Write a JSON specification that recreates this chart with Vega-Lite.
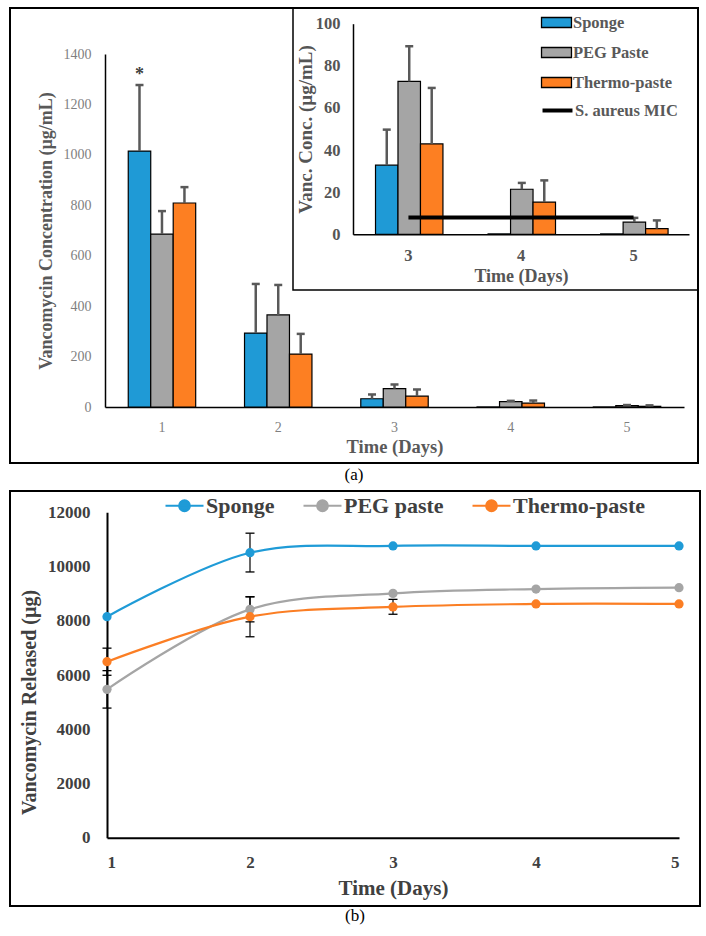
{
  "$schema": "https://vega.github.io/schema/vega-lite/v6.json",
  "background": "white",
  "padding": {"left": 9, "top": 6, "right": 0, "bottom": 0},
  "spacing": 6,
  "datasets": {
    "bars": [
      {"day": 1, "group": "Sponge", "mean": 1015, "upper": 1277, "note": "*"},
      {"day": 1, "group": "PEG Paste", "mean": 686, "upper": 777},
      {"day": 1, "group": "Thermo-paste", "mean": 809, "upper": 872},
      {"day": 2, "group": "Sponge", "mean": 293, "upper": 488},
      {"day": 2, "group": "PEG Paste", "mean": 365, "upper": 484},
      {"day": 2, "group": "Thermo-paste", "mean": 210, "upper": 290},
      {"day": 3, "group": "Sponge", "mean": 32.8, "upper": 49.7},
      {"day": 3, "group": "PEG Paste", "mean": 72.6, "upper": 89.3},
      {"day": 3, "group": "Thermo-paste", "mean": 42.9, "upper": 69.5},
      {"day": 4, "group": "Sponge", "mean": 0.2, "upper": null},
      {"day": 4, "group": "PEG Paste", "mean": 21.4, "upper": 24.4},
      {"day": 4, "group": "Thermo-paste", "mean": 15.3, "upper": 25.6},
      {"day": 5, "group": "Sponge", "mean": 0.2, "upper": null},
      {"day": 5, "group": "PEG Paste", "mean": 5.8, "upper": 7.8},
      {"day": 5, "group": "Thermo-paste", "mean": 2.7, "upper": 6.6}
    ],
    "mic": [
      {"day": 3, "group": "S. aureus MIC", "mic": 8},
      {"day": 5, "group": "S. aureus MIC", "mic": 8}
    ],
    "release": [
      {"day": 1, "group": "Sponge", "mass": 8150},
      {"day": 2, "group": "Sponge", "mass": 10510, "lo": 9800, "hi": 11230},
      {"day": 3, "group": "Sponge", "mass": 10760},
      {"day": 4, "group": "Sponge", "mass": 10760},
      {"day": 5, "group": "Sponge", "mass": 10760},
      {"day": 1, "group": "PEG paste", "mass": 5470, "lo": 4780, "hi": 6160},
      {"day": 2, "group": "PEG paste", "mass": 8420, "lo": 7960, "hi": 8880},
      {"day": 3, "group": "PEG paste", "mass": 9010},
      {"day": 4, "group": "PEG paste", "mass": 9170},
      {"day": 5, "group": "PEG paste", "mass": 9220},
      {"day": 1, "group": "Thermo-paste", "mass": 6490, "lo": 5990, "hi": 6990},
      {"day": 2, "group": "Thermo-paste", "mass": 8150, "lo": 7410, "hi": 8890},
      {"day": 3, "group": "Thermo-paste", "mass": 8510, "lo": 8240, "hi": 8790},
      {"day": 4, "group": "Thermo-paste", "mass": 8620},
      {"day": 5, "group": "Thermo-paste", "mass": 8620}
    ]
  },
  "resolve": {
    "scale": {"fill": "independent", "stroke": "independent"},
    "legend": {"fill": "independent", "stroke": "independent"}
  },
  "vconcat": [
    {
      "width": 688,
      "height": 455,
      "title": {"text": "(a)", "orient": "bottom", "anchor": "middle", "offset": 4, "fontSize": 17, "fontWeight": "normal", "color": "black", "font": "Liberation Serif"},
      "resolve": {"scale": {"x": "independent", "y": "independent"}},
      "layer": [
        {
          "data": {"name": "bars"},
          "encoding": {
            "x": {
              "field": "day", "type": "ordinal",
              "scale": {"domain": [1, 2, 3, 4, 5], "range": [95, 674], "paddingInner": 0.42, "paddingOuter": 0.2},
              "axis": {"orient": "bottom", "offset": -56, "labelAngle": 0, "labelFontSize": 14, "labelColor": "#7f7f7f", "labelPadding": 13, "title": "Time (Days)", "titleFontSize": 18.5, "titleColor": "#595959", "titlePadding": 3, "domainWidth": 1.5}
            }
          },
          "layer": [
            {
              "mark": {"type": "bar", "stroke": "black", "strokeWidth": 1.2},
              "encoding": {
                "xOffset": {"field": "group", "type": "nominal", "scale": {"domain": ["Sponge", "PEG Paste", "Thermo-paste"], "paddingInner": 0, "paddingOuter": 0}},
                "y": {
                  "field": "mean", "type": "quantitative",
                  "scale": {"domain": [0, 1400], "range": [399, 46], "nice": false},
                  "axis": {"orient": "left", "offset": -95, "values": [0, 200, 400, 600, 800, 1000, 1200, 1400], "format": "d", "labelFontSize": 14, "labelColor": "#7f7f7f", "labelPadding": 14, "title": "Vancomycin Concentration (µg/mL)", "titleFontSize": 18, "titleColor": "#595959", "titlePadding": 8, "domainWidth": 1.5}
                },
                "fill": {"field": "group", "type": "nominal", "scale": {"domain": ["Sponge", "PEG Paste", "Thermo-paste"], "range": ["#1f9ad6", "#a5a5a5", "#fd7f22"]},
                  "legend": {"title": null, "orient": "none", "legendX": 532, "legendY": 0, "symbolType": "M-1.11,-0.37H1.11V0.37H-1.11Z", "symbolSize": 729, "symbolStrokeColor": "black", "symbolStrokeWidth": 1.3, "symbolOpacity": 1, "labelFont": "Liberation Serif", "labelFontSize": 16.5, "labelFontWeight": "bold", "labelColor": "#595959", "labelOffset": 2, "rowPadding": 7, "padding": 0}}
              }
            },
            {
              "transform": [{"filter": "isValid(datum.upper)"}],
              "mark": {"type": "rule", "color": "#595959", "strokeWidth": 2.5},
              "encoding": {
                "xOffset": {"field": "group", "type": "nominal"},
                "y": {"field": "mean", "type": "quantitative"},
                "y2": {"field": "upper"}
              }
            },
            {
              "transform": [{"filter": "isValid(datum.upper)"}],
              "mark": {"type": "tick", "orient": "horizontal", "color": "#595959", "size": 8, "thickness": 2.5, "opacity": 1},
              "encoding": {
                "xOffset": {"field": "group", "type": "nominal"},
                "y": {"field": "upper", "type": "quantitative"}
              }
            },
            {
              "transform": [{"filter": "isValid(datum.note)"}],
              "mark": {"type": "text", "baseline": "bottom", "dy": -1, "fontSize": 18, "fontWeight": "bold", "color": "#404040", "font": "Liberation Serif"},
              "encoding": {
                "xOffset": {"field": "group", "type": "nominal"},
                "y": {"field": "upper", "type": "quantitative"},
                "text": {"field": "note"}
              }
            }
          ]
        },
        {
          "data": {"values": [{}]},
          "mark": {"type": "rect", "fill": null, "fillOpacity": 0, "stroke": "black", "strokeWidth": 1.5},
          "encoding": {
            "x": {"datum": 0, "type": "quantitative", "scale": {"domain": [0, 1], "range": [283, 688]}, "axis": null},
            "x2": {"datum": 1},
            "y": {"datum": 0, "type": "quantitative", "scale": {"domain": [0, 1], "range": [282, 0]}, "axis": null},
            "y2": {"datum": 1}
          }
        },
        {
          "encoding": {
            "x": {
              "field": "day", "type": "ordinal",
              "scale": {"domain": [3, 4, 5], "range": [343, 679], "paddingInner": 0.415, "paddingOuter": 0.2},
              "axis": {"orient": "bottom", "offset": -228.7, "zindex": 2, "labelAngle": 0, "labelFontSize": 16.5, "labelFontWeight": "bold", "labelColor": "#555555", "labelPadding": 13, "title": "Time (Days)", "titleFontSize": 18, "titleColor": "#555555", "titlePadding": 4, "domainWidth": 1.5}
            }
          },
          "layer": [
            {
              "data": {"name": "bars"},
              "transform": [{"filter": "datum.day >= 3"}],
              "mark": {"type": "bar", "stroke": "black", "strokeWidth": 1.2},
              "encoding": {
                "xOffset": {"field": "group", "type": "nominal", "scale": {"domain": ["Sponge", "PEG Paste", "Thermo-paste"], "paddingInner": 0, "paddingOuter": 0}},
                "y": {
                  "field": "mean", "type": "quantitative",
                  "scale": {"domain": [0, 100], "range": [226.3, 15.7], "nice": false},
                  "axis": {"orient": "left", "offset": -343, "zindex": 2, "values": [0, 20, 40, 60, 80, 100], "labelFontSize": 16.5, "labelFontWeight": "bold", "labelColor": "#555555", "labelPadding": 13, "title": "Vanc. Conc. (µg/mL)", "titleFontSize": 19, "titleColor": "#555555", "titlePadding": 0, "domainWidth": 1.5}
                },
                "fill": {"field": "group", "type": "nominal"}
              }
            },
            {
              "data": {"name": "bars"},
              "transform": [{"filter": "datum.day >= 3"}, {"filter": "isValid(datum.upper)"}],
              "mark": {"type": "rule", "color": "#595959", "strokeWidth": 2.5},
              "encoding": {
                "xOffset": {"field": "group", "type": "nominal"},
                "y": {"field": "mean", "type": "quantitative"},
                "y2": {"field": "upper"}
              }
            },
            {
              "data": {"name": "bars"},
              "transform": [{"filter": "datum.day >= 3"}, {"filter": "isValid(datum.upper)"}],
              "mark": {"type": "tick", "orient": "horizontal", "color": "#595959", "size": 8, "thickness": 2.5, "opacity": 1},
              "encoding": {
                "xOffset": {"field": "group", "type": "nominal"},
                "y": {"field": "upper", "type": "quantitative"}
              }
            },
            {
              "data": {"name": "mic"},
              "mark": {"type": "line", "strokeWidth": 4},
              "encoding": {
                "y": {"field": "mic", "type": "quantitative"},
                "stroke": {"field": "group", "type": "nominal", "scale": {"range": ["black"]},
                  "legend": {"title": null, "orient": "none", "legendX": 532, "legendY": 87, "symbolType": "M-1.11,0H1.11", "symbolSize": 729, "symbolStrokeWidth": 4, "labelFont": "Liberation Serif", "labelFontSize": 16.5, "labelFontWeight": "bold", "labelColor": "#595959", "labelOffset": 2, "padding": 0}}
              }
            }
          ]
        }
      ]
    },
    {
      "width": 690,
      "height": 415,
      "title": {"text": "(b)", "orient": "bottom", "anchor": "middle", "offset": 2, "fontSize": 17, "fontWeight": "normal", "color": "black", "font": "Liberation Serif"},
      "data": {"name": "release"},
      "encoding": {
        "x": {
          "field": "day", "type": "quantitative",
          "scale": {"domain": [1, 5], "range": [97, 669], "nice": false},
          "axis": {"orient": "bottom", "offset": -68.3, "values": [1, 2, 3, 4, 5], "format": "d", "labelFontSize": 17, "labelFontWeight": "bold", "labelColor": "#404040", "labelPadding": 17, "title": "Time (Days)", "titleFontSize": 21, "titleColor": "#404040", "titlePadding": 7, "domainWidth": 2}
        }
      },
      "layer": [
        {
          "mark": {"type": "line", "interpolate": "catmull-rom", "strokeWidth": 2.2},
          "encoding": {
            "y": {
              "field": "mass", "type": "quantitative",
              "scale": {"domain": [0, 12000], "range": [346.7, 21.3], "nice": false},
              "axis": {"orient": "left", "offset": -97, "values": [0, 2000, 4000, 6000, 8000, 10000, 12000], "format": "d", "labelFontSize": 17, "labelFontWeight": "bold", "labelColor": "#404040", "labelPadding": 17, "title": "Vancomycin Released (µg)", "titleFontSize": 20, "titleColor": "#404040", "titlePadding": 8, "titleY": 211, "domainWidth": 2}
            },
            "stroke": {
              "field": "group", "type": "nominal",
              "scale": {"domain": ["Sponge", "PEG paste", "Thermo-paste"], "range": ["#1f9bd7", "#a5a5a5", "#fb7e24"]},
              "legend": {
                "title": null, "orient": "none", "direction": "horizontal", "legendX": 163, "legendY": 3,
                "symbolType": "M-1.9,0H1.9M-0.53,0A0.53,0.53,0,1,1,0.53,0A0.53,0.53,0,1,1,-0.53,0",
                "symbolSize": 400, "symbolStrokeWidth": 2.2, "symbolOpacity": 1,
                "labelFont": "Liberation Serif", "labelFontSize": 22, "labelFontWeight": "bold", "labelColor": "#404040", "labelOffset": 10, "columnPadding": 24, "padding": 0
              }
            }
          }
        },
        {
          "transform": [{"filter": "isValid(datum.lo)"}],
          "mark": {"type": "rule", "color": "black", "strokeWidth": 1.2},
          "encoding": {
            "y": {"field": "lo", "type": "quantitative"},
            "y2": {"field": "hi"}
          }
        },
        {
          "transform": [{"filter": "isValid(datum.lo)"}],
          "mark": {"type": "tick", "orient": "horizontal", "color": "black", "size": 9, "thickness": 1.3, "opacity": 1},
          "encoding": {"y": {"field": "lo", "type": "quantitative"}}
        },
        {
          "transform": [{"filter": "isValid(datum.hi)"}],
          "mark": {"type": "tick", "orient": "horizontal", "color": "black", "size": 9, "thickness": 1.3, "opacity": 1},
          "encoding": {"y": {"field": "hi", "type": "quantitative"}}
        },
        {
          "mark": {"type": "point", "filled": true, "size": 85, "opacity": 1},
          "encoding": {
            "y": {"field": "mass", "type": "quantitative"},
            "fill": {
              "field": "group", "type": "nominal",
              "scale": {"domain": ["Sponge", "PEG paste", "Thermo-paste"], "range": ["#1f9bd7", "#a5a5a5", "#fb7e24"]},
              "legend": {
                "title": null, "orient": "none", "direction": "horizontal", "legendX": 163, "legendY": 3,
                "symbolType": "M-1.9,0H1.9M-0.53,0A0.53,0.53,0,1,1,0.53,0A0.53,0.53,0,1,1,-0.53,0",
                "symbolSize": 400, "symbolStrokeWidth": 2.2, "symbolOpacity": 1,
                "labelFont": "Liberation Serif", "labelFontSize": 22, "labelFontWeight": "bold", "labelColor": "#404040", "labelOffset": 10, "columnPadding": 24, "padding": 0
              }
            }
          }
        }
      ]
    }
  ],
  "config": {
    "font": "Liberation Serif",
    "view": {"stroke": "black", "strokeWidth": 2},
    "axis": {"grid": false, "ticks": false, "domainColor": "black", "labelFont": "Liberation Serif", "titleFont": "Liberation Serif", "titleFontWeight": "bold"},
    "legend": {"labelFont": "Liberation Serif"},
    "title": {"font": "Liberation Serif"}
  }
}
